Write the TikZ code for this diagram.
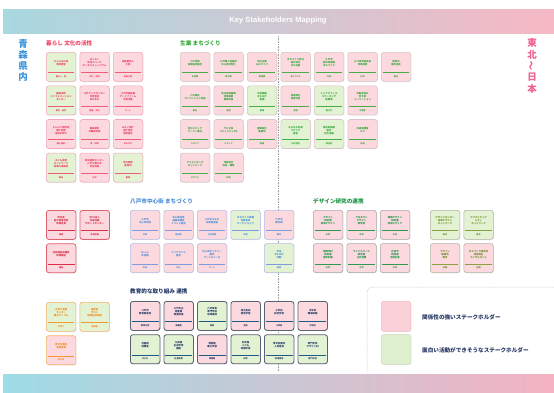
\documentclass[tikz,border=0pt]{standalone}
\usepackage{fontspec}
\newfontfamily\jp{Noto Sans CJK JP}
\newfontfamily\ttl{Liberation Sans}
\usetikzlibrary{shadows}

% card fills
\definecolor{fp}{HTML}{FBD9DF}
\definecolor{fg}{HTML}{E3F2D3}
% section colours: B = border, T = text, R = rule
\definecolor{kurB}{HTML}{F2A8B8}\definecolor{kurT}{HTML}{EE4466}\definecolor{kurR}{HTML}{EE5C78}
\definecolor{narB}{HTML}{D8C4C8}\definecolor{narT}{HTML}{3BAA3E}\definecolor{narR}{HTML}{45B04A}
\definecolor{locB}{HTML}{E06070}\definecolor{locT}{HTML}{D83048}\definecolor{locR}{HTML}{D83048}
\definecolor{hacB}{HTML}{B4BCE6}\definecolor{hacT}{HTML}{4C8FD6}\definecolor{hacR}{HTML}{7F9BDE}
\definecolor{desB}{HTML}{A8A8A8}\definecolor{desT}{HTML}{1E9448}\definecolor{desR}{HTML}{2E9A50}
\definecolor{extB}{HTML}{B4B4A4}\definecolor{extT}{HTML}{6E8E22}\definecolor{extR}{HTML}{8AA040}
\definecolor{oraB}{HTML}{F6B46A}\definecolor{oraT}{HTML}{F08A1C}\definecolor{oraR}{HTML}{F39A30}
\definecolor{eduB}{HTML}{5A6274}\definecolor{eduT}{HTML}{243A66}\definecolor{eduR}{HTML}{1E5A86}
\definecolor{navy}{HTML}{2A3A66}
\definecolor{barteal}{HTML}{A8D8E0}
\definecolor{barmid}{HTML}{D4D2DC}
\definecolor{barpink}{HTML}{F6B8C4}
\definecolor{barcyan}{HTML}{9EDCE6}
\definecolor{barmid2}{HTML}{CCD6E0}
\definecolor{barpink2}{HTML}{F4B2C2}

\tikzset{
  cardbox/.style={rectangle, rounded corners=2.5pt, inner sep=0pt,
    minimum width=29.5pt, minimum height=29pt,
    drop shadow={opacity=0.18, shadow xshift=0.5pt, shadow yshift=-0.7pt}},
  kurbox/.style={draw=kurB, line width=0.6pt},
  narbox/.style={draw=narB, line width=0.6pt},
  locbox/.style={draw=locB, line width=0.8pt},
  hacbox/.style={draw=hacB, line width=0.6pt},
  desbox/.style={draw=desB, line width=0.6pt},
  extbox/.style={draw=extB, line width=0.6pt},
  orabox/.style={draw=oraB, line width=0.7pt},
  edubox/.style={draw=eduB, line width=0.85pt},
  cardtext/.style={font=\jp\bfseries\fontsize{2.4}{3}\selectfont, align=center, inner sep=0pt},
  cardlabel/.style={font=\jp\bfseries\fontsize{2.1}{2.5}\selectfont, inner sep=0pt},
  heading/.style={font=\jp\bfseries\fontsize{5.6}{6.5}\selectfont, anchor=west, inner sep=0pt},
  sidelabel/.style={font=\jp\bfseries\fontsize{9.5}{11}\selectfont, align=center, inner sep=0pt},
  legendtext/.style={font=\jp\bfseries\fontsize{5.6}{6.5}\selectfont, anchor=west, inner sep=0pt, text=navy},
}

% one stakeholder card: name, left x, top y, section, fill, text, label
\newcommand\skcard[7]{%
  \node[cardbox,#4box,fill=#5,anchor=north west] (#1) at (#2,#3) {};
  \draw[line width=0.55pt,draw=#4R] ([xshift=1.8pt,yshift=-20.5pt]#1.north west) -- ([xshift=-1.8pt,yshift=-20.5pt]#1.north east);
  \node[cardtext,text=#4T] at ([yshift=-11pt]#1.north) {#6};
  \node[cardlabel,text=#4T] at ([yshift=-24.8pt]#1.north) {#7};
}

\begin{document}
\begin{tikzpicture}[x=1pt,y=-1pt]
\useasboundingbox[fill=white] (0,0) rectangle (554,392);

% banners
\shade[left color=barteal, middle color=barmid, right color=barpink] (3,9) rectangle (554,33);
\shade[left color=barcyan, middle color=barmid2, right color=barpink2] (3,374) rectangle (554,392);
\node[font=\ttl\bfseries\fontsize{7.6}{9}\selectfont, text=white] (title) at (278,21) {Key Stakeholders Mapping};

% side labels
\node[sidelabel, text={rgb,255:red,60;green,146;blue,218}] (local) at (23,60) {青\\森\\県\\内};
\node[sidelabel, text={rgb,255:red,240;green,96;blue,144}] (wide1) at (532,43) {東};
\node[sidelabel, text={rgb,255:red,240;green,96;blue,144}] (wide2) at (532,54.5) {北};
\node[sidelabel, text={rgb,255:red,240;green,96;blue,144}, rotate=90] (wide3) at (532,66) {〜};
\node[sidelabel, text={rgb,255:red,240;green,96;blue,144}] (wide4) at (532,77.5) {日};
\node[sidelabel, text={rgb,255:red,240;green,96;blue,144}] (wide5) at (532,89) {本};

% central divider
\coordinate (divtop) at (278,36);
\coordinate (divbot) at (278,372);
\draw[gray!75, line width=0.5pt, dash pattern=on 0.9pt off 0.7pt] (divtop) -- (divbot);

% section headings
\node[heading, text=kurT] (hkur) at (46,43) {暮らし 文化の活性};
\node[heading, text=narT] (hnar) at (180,43) {生業 まちづくり};
\node[heading, text=hacT] (hhac) at (130,201) {八戸市中心街 まちづくり};
\node[heading, text=desT] (hdes) at (313,201) {デザイン研究の連携};
\node[heading, text=eduT] (hedu) at (130,291) {教育的な取り組み 連携};

% culture and daily life
\foreach \c/\r/\f/\t/\l in {
  1/1/fg/{ちゃぶ台の会\\地域食堂}/{暮らし・食},
  2/1/fp/{はっちー\\交流スペース\\ポータルミュージアム}/{文化・交流},
  3/1/fp/{南部菱刺し\\工房}/{伝統工芸},
  1/2/fg/{種差海岸\\インフォメーション\\センター}/{観光・自然},
  2/2/fp/{八戸ブックセンター\\市営書店\\本のまち}/{読書・文化},
  3/2/fp/{八戸市美術館\\アートファーム\\市民活動}/{アート},
  1/3/fp/{えんぶり保存会\\郷土芸能\\地域の祭り}/{郷土芸能},
  2/3/fp/{館鼻朝市\\日曜朝市会}/{食・市場},
  3/3/fp/{みろく横丁\\横丁連合\\協同組合}/{まちなか},
  1/4/fg/{子ども食堂\\ネットワーク\\地域の居場所}/{福祉},
  2/4/fp/{地域連携センター\\八戸工業大学\\学生団体}/{大学},
  3/4/fg/{地元農家\\直売所}/{農業}}{
  \pgfmathsetmacro\xx{46+33.5*(\c-1)}
  \pgfmathsetmacro\yy{52+33.6*(\r-1)}
  \skcard{kur\c\r}{\xx}{\yy}{kur}{\f}{\t}{\l}
}

% livelihood and town making
\foreach \c/\r/\f/\t/\l in {
  1/1/fp/{八戸港湾\\漁業協同組合}/{水産業},
  2/1/fp/{八戸商工会議所\\中心街活性化}/{商工業},
  3/1/fp/{地元企業\\ものづくり}/{製造業},
  4/1/fp/{まちづくり会社\\株式会社\\まち企画}/{まちづくり},
  5/1/fp/{八戸市\\都市政策課\\まちづくり}/{行政},
  6/1/fp/{三八地域県民局\\地域連携}/{行政},
  7/1/fp/{南部町\\観光協会}/{観光},
  1/2/fp/{八戸観光\\コンベンション協会}/{観光},
  2/2/fp/{地元金融機関\\地域振興\\創業支援}/{金融},
  3/2/fg/{市民農園\\まちなか\\菜園}/{農業},
  4/2/fp/{地域商社\\地産地消}/{流通},
  5/2/fg/{シェアオフィス\\コワーキング\\起業家}/{働き方},
  6/2/fp/{不動産会社\\空き家\\リノベーション}/{不動産},
  1/3/fp/{地元メディア\\デーリー東北}/{メディア},
  2/3/fp/{ラジオ局\\コミュニティFM}/{メディア},
  3/3/fp/{建築設計\\事務所}/{建築},
  4/3/fg/{まちなか広場\\マチニワ\\運営}/{公共空間},
  5/3/fg/{商店街振興\\組合\\空き店舗}/{商店街},
  6/3/fp/{交通事業者\\バス}/{交通},
  1/4/fp/{クリエイターズ\\ネットワーク}/{デザイン},
  2/4/fp/{印刷会社\\出版・編集}/{印刷}}{
  \pgfmathsetmacro\xx{180+33.5*(\c-1)}
  \pgfmathsetmacro\yy{52+33.6*(\r-1)}
  \skcard{nar\c\r}{\xx}{\yy}{nar}{\f}{\t}{\l}
}

% local community
\foreach \c/\r/\f/\t/\l in {
  1/1/fp/{町内会\\自治会連合会\\地域住民}/{地域},
  2/1/fp/{NPO法人\\市民活動\\サポートセンター}/{市民活動},
  1/2/fp/{社会福祉協議会\\地域福祉}/{福祉}}{
  \pgfmathsetmacro\xx{46+33.5*(\c-1)}
  \pgfmathsetmacro\yy{210+33.3*(\r-1)}
  \skcard{loc\c\r}{\xx}{\yy}{loc}{\f}{\t}{\l}
}

% Hachinohe city centre
\foreach \c/\r/\f/\t/\l in {
  1/1/fp/{八戸市\\中心市街地}/{行政},
  2/1/fp/{中心商店街\\連絡協議会\\イベント運営}/{商店街},
  3/1/fp/{八戸まちなか\\広場運営室}/{公共空間},
  4/1/fg/{まちづくり会議\\市民有志\\ワークショップ}/{市民},
  5/1/fp/{八戸市\\観光課}/{観光},
  1/2/fp/{ほっぷ\\交流館}/{交流},
  2/2/fp/{ブックカフェ\\書店}/{文化},
  3/2/fp/{中心街ギャラリー\\展示\\アートスペース}/{アート},
  5/2/fg/{学生\\まちなか\\活動}/{若者}}{
  \pgfmathsetmacro\xx{130+33.5*(\c-1)}
  \pgfmathsetmacro\yy{210+33.3*(\r-1)}
  \skcard{hac\c\r}{\xx}{\yy}{hac}{\f}{\t}{\l}
}

% design research
\foreach \c/\r/\f/\t/\l in {
  1/1/fp/{デザイン\\研究室\\地域デザイン}/{大学},
  2/1/fp/{プロダクト\\デザイン\\研究会}/{大学},
  3/1/fp/{情報デザイン\\研究室\\地域メディア}/{大学},
  1/2/fp/{建築学科\\研究室\\都市計画}/{大学},
  2/2/fp/{ランドスケープ\\研究室\\公共空間}/{大学},
  3/2/fp/{社会学\\研究室\\地域社会}/{大学}}{
  \pgfmathsetmacro\xx{313+33.5*(\c-1)}
  \pgfmathsetmacro\yy{210+33.3*(\r-1)}
  \skcard{des\c\r}{\xx}{\yy}{des}{\f}{\t}{\l}
}
\foreach \c/\r/\f/\t/\l in {
  1/1/fg/{デザインセンター\\地域デザイン\\ネットワーク}/{東北},
  2/1/fg/{クリエイティブ\\シティ\\ネットワーク}/{東北},
  1/2/fp/{デザイン\\事務所\\東京}/{全国},
  2/2/fp/{まちづくり研究所\\地域再生\\コンサルタント}/{全国}}{
  \pgfmathsetmacro\xx{430+33.5*(\c-1)}
  \pgfmathsetmacro\yy{210+33.3*(\r-1)}
  \skcard{ext\c\r}{\xx}{\yy}{ext}{\f}{\t}{\l}
}

% families and welfare
\foreach \c/\r/\f/\t/\l in {
  1/1/fg/{子育て支援\\センター\\親子サークル}/{子育て},
  2/1/fg/{高齢者\\サロン\\地域包括支援}/{高齢者},
  1/2/fp/{青少年育成\\市民会議}/{青少年}}{
  \pgfmathsetmacro\xx{46+33.5*(\c-1)}
  \pgfmathsetmacro\yy{302+33.3*(\r-1)}
  \skcard{ora\c\r}{\xx}{\yy}{ora}{\f}{\t}{\l}
}

% education
\foreach \c/\r/\f/\t/\l in {
  1/1/fp/{八戸市\\教育委員会}/{教育行政},
  2/1/fp/{八戸市立\\図書館\\読書推進}/{図書館},
  3/1/fg/{八戸高等\\専門学校\\地域連携}/{高専},
  4/1/fp/{地元高校\\探究学習}/{高校},
  5/1/fp/{小学校\\総合学習}/{小学校},
  6/1/fp/{中学校\\職場体験}/{中学校},
  1/2/fg/{児童館\\放課後}/{子ども},
  2/2/fg/{公民館\\生涯学習\\講座}/{社会教育},
  3/2/fp/{博物館\\郷土学習}/{博物館},
  4/2/fg/{科学館\\こども\\体験学習}/{科学},
  5/2/fg/{青年会議所\\人材育成}/{地域団体},
  6/2/fg/{専門学校\\デザイン科}/{専門学校}}{
  \pgfmathsetmacro\xx{130+33.5*(\c-1)}
  \pgfmathsetmacro\yy{301+33.3*(\r-1)}
  \skcard{edu\c\r}{\xx}{\yy}{edu}{\f}{\t}{\l}
}

% legend
\coordinate (lgA) at (367,372);
\coordinate (lgB) at (554,287);
\draw[gray!45, line width=0.5pt, dash pattern=on 1pt off 0.8pt, rounded corners=6pt] (lgA) |- (lgB);
\node[cardbox, draw={rgb,255:red,236;green,190;blue,198}, line width=0.5pt, fill={rgb,255:red,251;green,208;blue,216}, minimum height=30pt, anchor=north west] (keypink) at (381,301) {};
\node[cardbox, draw={rgb,255:red,204;green,222;blue,190}, line width=0.5pt, fill={rgb,255:red,223;green,240;blue,208}, minimum height=30pt, anchor=north west] (keygreen) at (381,334) {};
\node[legendtext] (keypinktext) at (422,317) {関係性の強いステークホルダー};
\node[legendtext] (keygreentext) at (422,350) {面白い活動ができそうなステークホルダー};
\end{tikzpicture}
\end{document}
